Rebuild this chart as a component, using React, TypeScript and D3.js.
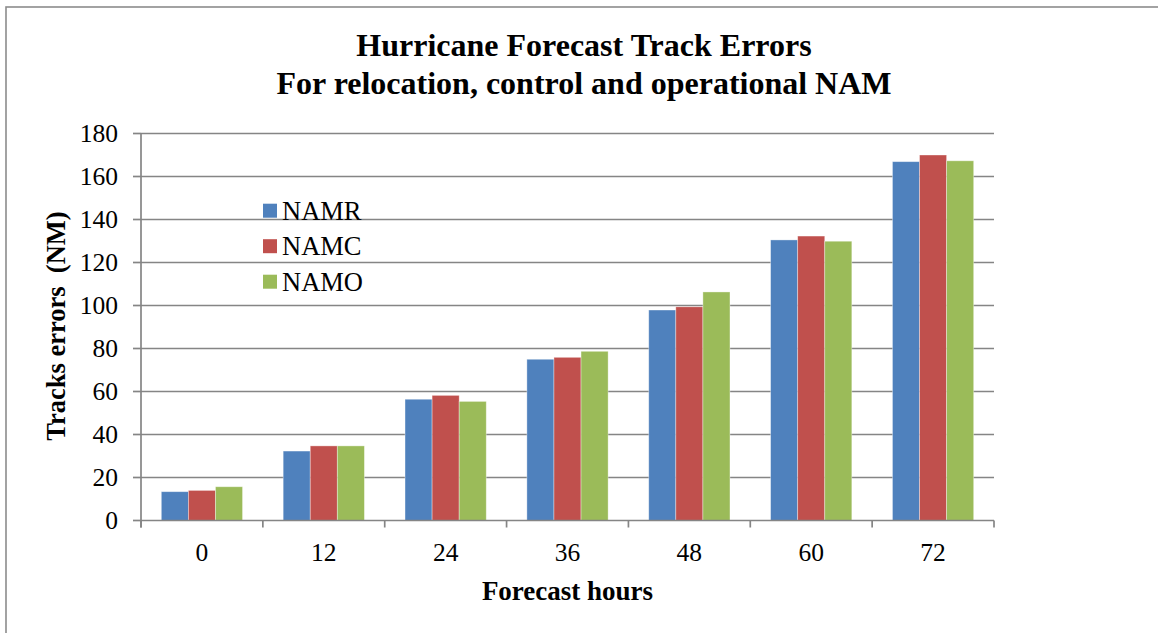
import React from "react";
import * as d3 from "d3";

const categories = ["0", "12", "24", "36", "48", "60", "72"];
const seriesNames = ["NAMR", "NAMC", "NAMO"];
const namr = [13.4, 32.3, 56.4, 75.0, 97.9, 130.5, 166.9];
const namc = [14.0, 34.7, 58.2, 75.9, 99.4, 132.3, 170.0];
const namo = [15.7, 34.7, 55.4, 78.7, 106.3, 129.9, 167.3];
const yTicks = [0, 20, 40, 60, 80, 100, 120, 140, 160, 180];
const colors = ["#4F81BD", "#C0504D", "#9BBB59"];

const W = 1158;
const H = 633;
const left = 141;
const right = 994;
const top = 133.5;
const bottom = 520.5;
const FONT = "'Liberation Serif', 'Times New Roman', serif";

export default function App() {
  const series = [namr, namc, namo];
  const x = d3.scaleBand<string>().domain(categories).range([left, right]).paddingInner(0).paddingOuter(0);
  const bw = x.bandwidth();
  const barW = bw / 4.5; // gap width 150%
  const inner = d3.scaleBand<number>().domain([0, 1, 2]).range([0.75 * barW, 0.75 * barW + 3 * barW]);
  const y = d3.scaleLinear().domain([0, 180]).range([bottom, top]);
  const grid = "#858585";
  const boundaries = categories.map((c) => x(c) as number).concat([right]);

  return (
    <svg width={W} height={H} style={{ position: "absolute", left: 0, top: 0, background: "#fff" }} fontFamily={FONT}>
      <rect x={0} y={0} width={W} height={H} fill="#fff" />
      <rect x={6} y={7} width={W + 20} height={H + 20} fill="none" stroke="#8c8c8c" strokeWidth={1.6} />
      <text x={584} y={56} textAnchor="middle" fontWeight="bold" fontSize={32}>
        Hurricane Forecast Track Errors
      </text>
      <text x={584} y={94} textAnchor="middle" fontWeight="bold" fontSize={32}>
        For relocation, control and operational NAM
      </text>
      {yTicks.map((t) => (
        <g key={t}>
          {t > 0 && <line x1={left} x2={right} y1={y(t)} y2={y(t)} stroke={grid} strokeWidth={1.7} />}
          <line x1={left - 8} x2={left} y1={y(t)} y2={y(t)} stroke={grid} strokeWidth={1.7} />
          <text x={118} y={y(t)} dy="0.35em" textAnchor="end" fontSize={25.5}>
            {t}
          </text>
        </g>
      ))}
      {series.map((vals, si) =>
        categories.map((c, ci) => (
          <rect
            key={si + "-" + ci}
            x={(x(c) as number) + (inner(si) as number)}
            y={y(vals[ci])}
            width={barW}
            height={y(0) - y(vals[ci])}
            fill={colors[si]}
            stroke="rgba(255,255,255,0.45)"
            strokeWidth={0.8}
          />
        ))
      )}
      <line x1={left} x2={left} y1={top} y2={bottom + 7} stroke={grid} strokeWidth={1.7} />
      <line x1={left} x2={right} y1={bottom} y2={bottom} stroke={grid} strokeWidth={1.7} />
      {boundaries.map((b, i) => (
        <line key={i} x1={b} x2={b} y1={bottom} y2={bottom + 7} stroke={grid} strokeWidth={1.7} />
      ))}
      {categories.map((c) => (
        <text key={c} x={(x(c) as number) + bw / 2} y={561} textAnchor="middle" fontSize={25.5}>
          {c}
        </text>
      ))}
      <text x={(left + right) / 2} y={600} textAnchor="middle" fontWeight="bold" fontSize={27}>
        Forecast hours
      </text>
      <text
        transform={`translate(65, 326) rotate(-90)`}
        textAnchor="middle"
        fontWeight="bold"
        fontSize={26.5}
        style={{ whiteSpace: "pre" }}
      >
        {"Tracks errors\u00a0 (NM)"}
      </text>
      {seriesNames.map((n, i) => {
        const cy = 210.7 + i * 35.5;
        return (
          <g key={n}>
            <rect x={263} y={cy - 7} width={14} height={14} fill={colors[i]} />
            <text x={282} y={cy} dy="0.35em" fontSize={26.5}>
              {n}
            </text>
          </g>
        );
      })}
    </svg>
  );
}
